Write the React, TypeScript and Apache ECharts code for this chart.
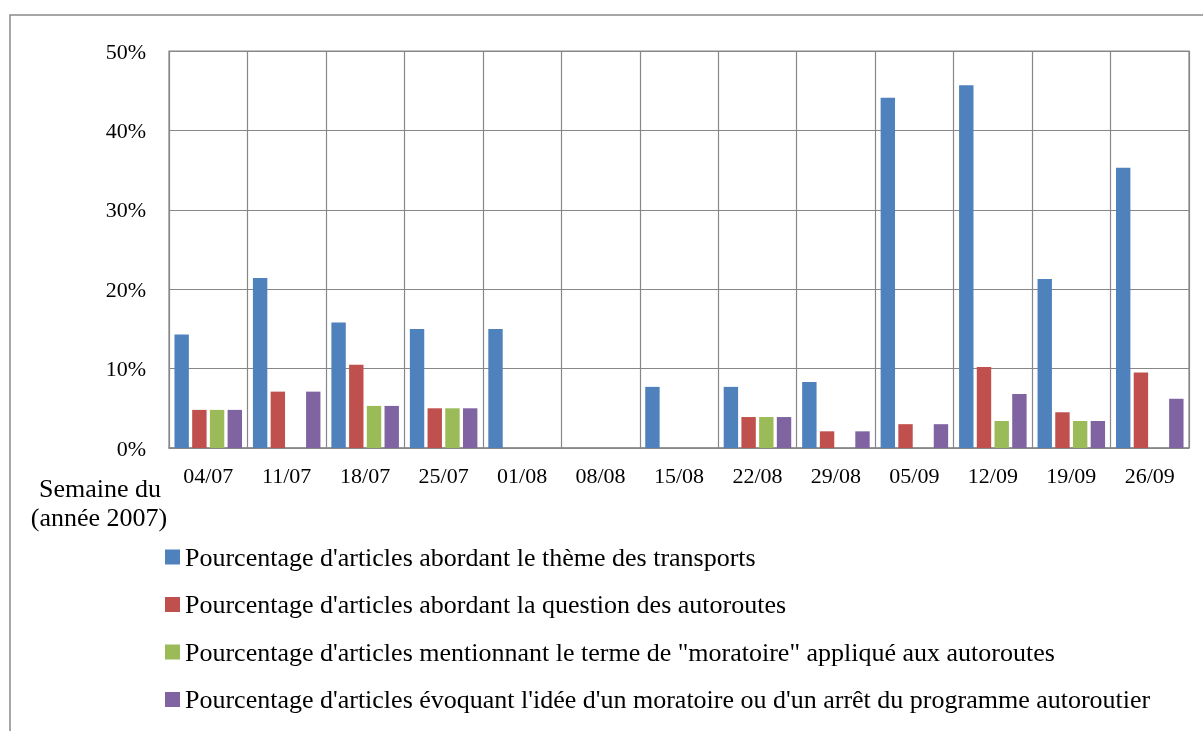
import React, { useEffect, useRef } from "react";
import * as echarts from "echarts";

const categories = ["04/07", "11/07", "18/07", "25/07", "01/08", "08/08", "15/08", "22/08", "29/08", "05/09", "12/09", "19/09", "26/09"];
const transports = [14.3, 21.4, 15.8, 15.0, 15.0, 0, 7.7, 7.7, 8.3, 44.1, 45.7, 21.3, 35.3];
const autoroutes = [4.8, 7.1, 10.5, 5.0, 0, 0, 0, 3.9, 2.1, 3.0, 10.2, 4.5, 9.5];
const moratoireTerme = [4.8, 0, 5.3, 5.0, 0, 0, 0, 3.9, 0, 0, 3.4, 3.4, 0];
const moratoireIdee = [4.8, 7.1, 5.3, 5.0, 0, 0, 0, 3.9, 2.1, 3.0, 6.8, 3.4, 6.2];
const yTicks = [0, 10, 20, 30, 40, 50];
const seriesNames = [
  "Pourcentage d'articles abordant le thème des transports",
  "Pourcentage d'articles abordant la question des autoroutes",
  "Pourcentage d'articles mentionnant le terme de \"moratoire\" appliqué aux autoroutes",
  "Pourcentage d'articles évoquant l'idée d'un moratoire ou d'un arrêt du programme autoroutier",
];
const seriesColors = ["#4F81BD", "#C0504D", "#9BBB59", "#8064A2"];

const FONT = "Liberation Serif";
const GRID = "#878787";

export default function App() {
  const ref = useRef<HTMLDivElement>(null);
  useEffect(() => {
    if (!ref.current) return;
    const chart = echarts.init(ref.current, undefined, { renderer: "svg" });
    const data = [transports, autoroutes, moratoireTerme, moratoireIdee];
    chart.setOption({
      animation: false,
      grid: { left: 169, top: 51, right: 14, bottom: 283, show: true, borderColor: GRID, borderWidth: 1.2 },
      xAxis: {
        type: "category",
        data: categories,
        axisLine: { show: true, lineStyle: { color: GRID, width: 1.5 } },
        axisTick: { show: false },
        splitLine: { show: true, interval: 0, lineStyle: { color: GRID, width: 1.2 } },
        axisLabel: { interval: 0, fontFamily: FONT, fontSize: 22, color: "#000", margin: 16 },
      },
      yAxis: {
        type: "value",
        min: yTicks[0],
        max: yTicks[yTicks.length - 1],
        interval: 10,
        axisLine: { show: false },
        axisTick: { show: false },
        splitLine: { show: true, lineStyle: { color: GRID, width: 1.2 } },
        axisLabel: { fontFamily: FONT, fontSize: 22, color: "#000", margin: 23, formatter: "{value}%" },
      },
      legend: {
        orient: "vertical",
        left: 165,
        top: 544,
        padding: 0,
        itemWidth: 15,
        itemHeight: 15,
        itemGap: 21.5,
        icon: "rect",
        selectedMode: false,
        textStyle: { fontFamily: FONT, fontSize: 26, color: "#000", lineHeight: 26 },
        data: seriesNames,
      },
      graphic: [
        { type: "rect", shape: { x: 10, y: 15, width: 1300, height: 900 }, style: { fill: "none", stroke: "#898989", lineWidth: 1.5 }, silent: true },
        { type: "text", x: 100, y: 475, style: { text: "Semaine du", fontSize: 26, fontFamily: FONT, align: "center", verticalAlign: "top", fill: "#000" } },
        { type: "text", x: 99, y: 504, style: { text: "(année 2007)", fontSize: 26, fontFamily: FONT, align: "center", verticalAlign: "top", fill: "#000" } },
      ],
      series: seriesNames.map((name, i) => ({
        name,
        type: "bar",
        data: data[i],
        barWidth: 14.4,
        barGap: "23%",
        itemStyle: { color: seriesColors[i] },
      })),
    });
    return () => chart.dispose();
  }, []);
  return <div ref={ref} style={{ position: "fixed", left: 0, top: 0, width: 1203, height: 731 }} />;
}
